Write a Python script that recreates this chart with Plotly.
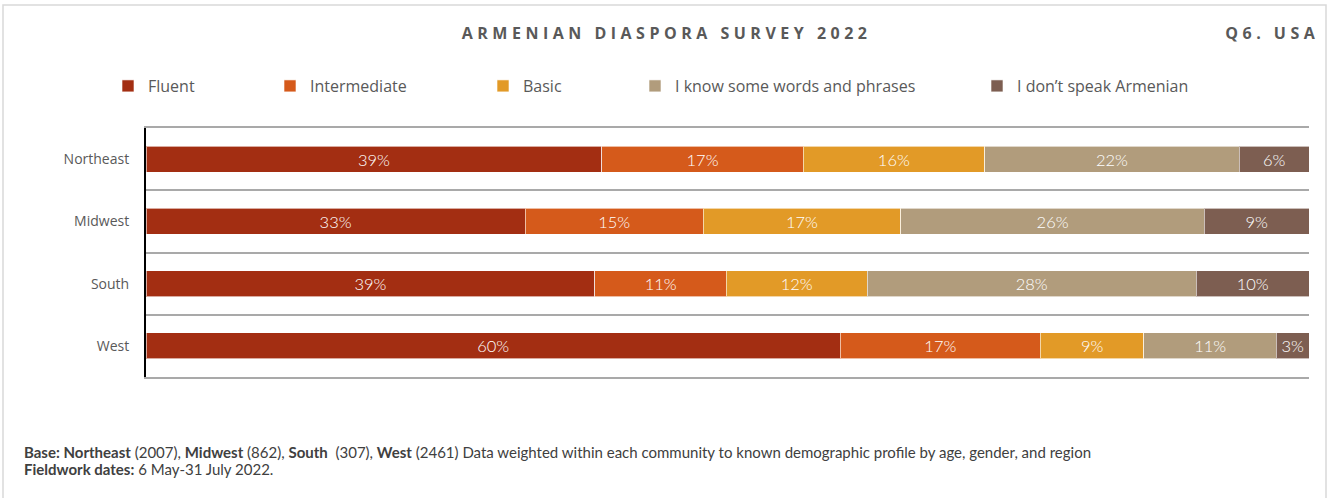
import plotly.graph_objects as go

regions = ["Northeast", "Midwest", "South", "West"]
series_names = ["Fluent", "Intermediate", "Basic", "I know some words and phrases", "I don\u2019t speak Armenian"]
fluent = [39.2, 32.6, 38.6, 59.7]
intermediate = [17.3, 15.3, 11.3, 17.2]
basic = [15.6, 17.0, 12.1, 8.9]
some_words = [21.9, 26.1, 28.3, 11.4]
dont_speak = [6.0, 9.0, 9.7, 2.8]
colors = ["#a32e12", "#d55a1b", "#e29a27", "#b19c7c", "#7d5e51"]

W, H = 1333, 498
ML, MR, MT, MB = 146, 24, 128, 121
PW, PH = W - ML - MR, H - MT - MB

def px(x):
    return (x - ML) / PW

def py(y):
    return (H - MB - y) / PH

fig = go.Figure()
all_vals = [fluent, intermediate, basic, some_words, dont_speak]
legend_text_x = [148, 310, 523, 675, 1017]
legend_ids = ["legend", "legend2", "legend3", "legend4", "legend5"]
for name, vals, col, lid in zip(series_names, all_vals, colors, legend_ids):
    fig.add_trace(go.Bar(
        y=regions, x=vals, name=name, orientation="h",
        marker=dict(color=col, line=dict(color="rgba(255,255,255,0.6)", width=1)),
        text=vals, texttemplate="%{x:.0f}%", textposition="inside",
        insidetextanchor="middle",
        textfont=dict(color="white", size=18, family="Lato", weight=300),
        legend=lid, hoverinfo="skip",
    ))

legend_common = dict(orientation="h", yanchor="middle", y=py(86), xanchor="left",
                     font=dict(family="Open Sans", size=16, color="#595959"),
                     bgcolor="rgba(0,0,0,0)", itemwidth=30)
layout_legends = {}
for lid, tx in zip(legend_ids, legend_text_x):
    layout_legends[lid] = dict(legend_common, x=px(tx - 40))

fig.update_layout(
    width=W, height=H, barmode="stack", bargap=0.58,
    margin=dict(l=ML, r=MR, t=MT, b=MB),
    plot_bgcolor="white", paper_bgcolor="white",
    showlegend=True,
    **layout_legends,
    xaxis=dict(range=[0, 100], showticklabels=False, showgrid=False, zeroline=False,
               showline=True, mirror=True, linecolor="#a9a9a9", linewidth=1.5,
               fixedrange=True),
    yaxis=dict(categoryorder="array", categoryarray=regions, autorange="reversed",
               tickson="boundaries", showgrid=True, gridcolor="#a9a9a9", gridwidth=1.5,
               ticks="", showline=True, linecolor="black", linewidth=2,
               tickfont=dict(family="Open Sans", size=14, color="#595959"),
               ticklabelstandoff=12),
)

fig.add_annotation(xref="paper", yref="paper", x=px(666), y=py(33), xanchor="center", yanchor="middle",
                   text="<b>ARMENIAN DIASPORA SURVEY 2022</b>", showarrow=False,
                   font=dict(family="Open Sans", size=16, color="#595959"))
fig.add_annotation(xref="paper", yref="paper", x=px(1273), y=py(33), xanchor="center", yanchor="middle",
                   text="<b>Q6. USA</b>", showarrow=False,
                   font=dict(family="Open Sans", size=16, color="#595959"))
fig.add_annotation(xref="paper", yref="paper", x=px(22), y=py(452), xanchor="left", yanchor="middle",
                   text="<b>Base: Northeast</b> (2007), <b>Midwest</b> (862), <b>South</b>  (307), <b>West</b> (2461) Data weighted within each community to known demographic profile by age, gender, and region",
                   showarrow=False, font=dict(family="Lato", size=15, color="#404040"))
fig.add_annotation(xref="paper", yref="paper", x=px(22), y=py(469), xanchor="left", yanchor="middle",
                   text="<b>Fieldwork dates:</b> 6 May-31 July 2022.",
                   showarrow=False, font=dict(family="Lato", size=15, color="#404040"))

# card border
fig.add_shape(type="rect", xref="paper", yref="paper", x0=px(3), x1=px(1326), y0=py(520), y1=py(5),
              line=dict(color="#d9d9d9", width=1.5), fillcolor="rgba(0,0,0,0)", layer="below")

post = """
document.body.style.margin = '0';
var gd = document.getElementById('{plot_id}');
function spaceTitles() {
  gd.querySelectorAll('.annotation[data-index="0"] text, .annotation[data-index="1"] text').forEach(function (t) {
    t.style.letterSpacing = '4.5px';
  });
}
spaceTitles();
if (gd.on) { gd.on('plotly_afterplot', spaceTitles); }
"""

fig.write_html("out.html", post_script=post, config={"displayModeBar": False})
